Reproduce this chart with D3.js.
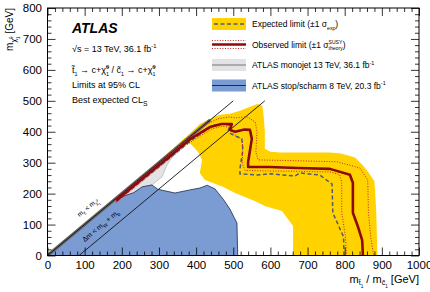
<!DOCTYPE html>
<html>
<head>
<meta charset="utf-8">
<script src="https://cdn.jsdelivr.net/npm/d3@7/dist/d3.min.js"></script>
<style>
  body { margin: 0; background: #fff; }
  svg { font-family: "Liberation Sans", Arial, sans-serif; }
</style>
</head>
<body>
<div id="chart"></div>
<script>

// tick values
var xMajor = [0, 100, 200, 300, 400, 500, 600, 700, 800, 900, 1000];
var yMajor = [0, 100, 200, 300, 400, 500, 600, 700, 800];

// contours, [m_stop/scharm, m_neutralino] in GeV
var expBand = [[300,292],[330,322],[360,352],[384,362],[405,335],[416,309],[410,267],[424,244],[472,222],[505,202],[558,176],[585,160],[631,144],[661,95],[661,0],[888,0],[885,140],[880,240],[866,265],[850,290],[828,317],[790,330],[760,333],[680,333],[626,333],[600,335],[585,345],[585,400],[582,450],[578,485],[565,490],[545,481],[518,468],[491,458],[464,455],[437,441],[410,425],[384,395],[360,370],[330,338],[300,306]];

var stopScharm8 = [[0,0],[182,180],[205,192],[232,203],[255,222],[281,228],[297,214],[343,202],[383,212],[410,218],[430,227],[451,215],[473,182],[491,150],[510,105],[512,0]];

var monojet13 = [[180,180],[440,440],[420,418],[392,394],[370,367],[335,318],[322,293],[308,254],[281,228],[255,219],[222,194],[200,186]];
var monojetLine = [[0,0],[438,438]];

var kinLine = [[0,0],[500,500]];
var wbLine = [[85,0],[585,500]];

var observed = [[185,178],[230,223],[280,272],[330,321],[384,376],[437,415],[468,425],[496,425],[491,406],[505,400],[530,407],[545,406],[550,377],[540,302],[540,286],[598,286],[672,283],[760,280],[814,261],[822,235],[822,138],[836,92],[847,50],[849,0]];
var obsUp = [[185,184],[230,229],[280,279],[330,330],[384,384],[420,420],[459,442],[491,448],[505,445],[537,448],[559,432],[564,400],[561,335],[567,309],[680,306],[779,303],[841,283],[862,244],[864,138],[870,60],[878,0]];
var obsDown = [[185,172],[230,215],[280,264],[330,313],[384,366],[440,408],[470,418],[490,414],[498,395],[515,382],[525,370],[525,295],[532,275],[600,273],[680,272],[760,270],[786,262],[792,238],[792,140],[802,60],[805,0]];
var expected = [[185,174],[230,219],[280,268],[330,317],[384,370],[445,420],[472,425],[491,421],[486,400],[499,390],[523,377],[526,341],[518,280],[518,264],[564,260],[599,264],[666,257],[680,267],[733,260],[766,231],[768,138],[797,60],[798,0]];

// label anchor points along the diagonals
var kinLabelPos = [112, 150];
var wbLabelPos = [147, 90];

var width = 430, height = 292;
var x = d3.scaleLinear().domain([0, 1000]).range([47.5, 419]);
var y = d3.scaleLinear().domain([0, 800]).range([255.5, 8]);

var svg = d3.select("#chart").append("svg")
  .attr("width", width).attr("height", height);

svg.append("clipPath").attr("id", "plotclip")
  .append("rect")
  .attr("x", x(0)).attr("y", y(800))
  .attr("width", x(1000) - x(0)).attr("height", y(0) - y(800));

var line = d3.line().x(function(d){ return x(d[0]); }).y(function(d){ return y(d[1]); });

var plot = svg.append("g").attr("clip-path", "url(#plotclip)");

// expected +-1 sigma band
plot.append("path").attr("d", line(expBand) + "Z")
  .attr("fill", "#ffd200").attr("stroke", "none");

// monojet
plot.append("path").attr("d", line(monojet13) + "Z")
  .attr("fill", "#e3e3e6").attr("stroke", "#999").attr("stroke-width", 0.5);

// 8 TeV stop/scharm
plot.append("path").attr("d", line(stopScharm8) + "Z")
  .attr("fill", "#7b9cd3").attr("stroke", "#1d2a4a").attr("stroke-width", 0.8);

plot.append("path").attr("d", line(monojetLine))
  .attr("fill", "none").attr("stroke", "#666").attr("stroke-width", 3.2);

plot.append("path").attr("d", line(kinLine))
  .attr("fill", "none").attr("stroke", "#111").attr("stroke-width", 0.9);
plot.append("path").attr("d", line(wbLine))
  .attr("fill", "none").attr("stroke", "#111").attr("stroke-width", 0.9);

plot.append("path").attr("d", line(expected))
  .attr("fill", "none").attr("stroke", "#4f5b78").attr("stroke-width", 1.5)
  .attr("stroke-dasharray", "4,2.5");

plot.selectAll(".dotted").data([obsUp, obsDown]).enter().append("path")
  .attr("class", "dotted")
  .attr("d", line)
  .attr("fill", "none").attr("stroke", "#c0282a").attr("stroke-width", 1)
  .attr("stroke-dasharray", "1,1.6");

plot.append("path").attr("d", line(observed))
  .attr("fill", "none").attr("stroke", "#8e0a0a").attr("stroke-width", 2.6)
  .attr("stroke-linejoin", "round");

// labels on the diagonals
var ang = Math.atan2(y(100) - y(0), x(100) - x(0)) * 180 / Math.PI;

function rich(sel, parts, size) {
  // parts: [text, baseline shift (em, + is down), size factor, stacked under previous]
  var shift = 0, prev = null;
  parts.forEach(function(p) {
    var target = (p[1] || 0) * size;
    var ts = sel.append("tspan")
      .attr("font-size", size * (p[2] || 1))
      .attr("dy", target - shift)
      .text(p[0]);
    if (p[3] && prev) ts.attr("dx", -prev.node().getComputedTextLength());
    shift = target;
    prev = ts;
  });
  return sel;
}

var kinLab = svg.append("text")
  .attr("transform", "translate(" + x(kinLabelPos[0]) + "," + y(kinLabelPos[1]) + ") rotate(" + ang + ")")
  .attr("text-anchor", "middle").attr("font-size", 6.5);
rich(kinLab, [["m"], ["c\u0303", 0.3, 0.7], [" < m"], ["\u03c7\u0303", 0.3, 0.7], ["0", -0.1, 0.5], ["1", 0.6, 0.5, true]], 6.5);

var wbLab = svg.append("text")
  .attr("transform", "translate(" + x(wbLabelPos[0]) + "," + y(wbLabelPos[1]) + ") rotate(" + ang + ")")
  .attr("text-anchor", "middle").attr("font-size", 7);
rich(wbLab, [["\u0394m < m"], ["W", 0.3, 0.7], [" + m", 0], ["b", 0.3, 0.7]], 7);

// axes, ROOT style ticks inside the frame
function minorVals(max) { return d3.range(0, max + 1, 20).filter(function(v){ return v % 100 != 0; }); }

svg.append("g").attr("transform", "translate(0," + y(0) + ")")
  .call(d3.axisBottom(x).tickValues(xMajor).tickFormat(d3.format("d")).tickSizeInner(-8).tickSizeOuter(0).tickPadding(5.5));
svg.append("g").attr("transform", "translate(0," + y(0) + ")")
  .call(d3.axisBottom(x).tickValues(minorVals(1000)).tickSizeInner(-4).tickSizeOuter(0).tickFormat(""));
svg.append("g").attr("transform", "translate(0," + y(800) + ")")
  .call(d3.axisTop(x).tickValues(xMajor).tickSizeInner(-8).tickSizeOuter(0).tickFormat(""));
svg.append("g").attr("transform", "translate(0," + y(800) + ")")
  .call(d3.axisTop(x).tickValues(minorVals(1000)).tickSizeInner(-4).tickSizeOuter(0).tickFormat(""));

svg.append("g").attr("transform", "translate(" + x(0) + ",0)")
  .call(d3.axisLeft(y).tickValues(yMajor).tickFormat(d3.format("d")).tickSizeInner(-8).tickSizeOuter(0).tickPadding(5.5));
svg.append("g").attr("transform", "translate(" + x(0) + ",0)")
  .call(d3.axisLeft(y).tickValues(minorVals(800)).tickSizeInner(-4).tickSizeOuter(0).tickFormat(""));
svg.append("g").attr("transform", "translate(" + x(1000) + ",0)")
  .call(d3.axisRight(y).tickValues(yMajor).tickSizeInner(-8).tickSizeOuter(0).tickFormat(""));
svg.append("g").attr("transform", "translate(" + x(1000) + ",0)")
  .call(d3.axisRight(y).tickValues(minorVals(800)).tickSizeInner(-4).tickSizeOuter(0).tickFormat(""));

svg.selectAll(".domain").remove();
svg.selectAll(".tick line").attr("stroke", "#000").attr("stroke-width", 0.8);
svg.selectAll(".tick text").attr("font-size", 11.5).attr("fill", "#000")
  .attr("font-family", "'Liberation Sans', Arial, sans-serif");

svg.append("rect")
  .attr("x", x(0)).attr("y", y(800))
  .attr("width", x(1000) - x(0)).attr("height", y(0) - y(800))
  .attr("fill", "none").attr("stroke", "#000").attr("stroke-width", 1);

// axis titles
var xt = svg.append("text").attr("x", x(1000)).attr("y", 283)
  .attr("text-anchor", "end").attr("font-size", 11);
rich(xt, [["m"], ["t\u0303", 0.2, 0.65], ["1", 0.42, 0.42], [" / m", 0], ["c\u0303", 0.2, 0.65], ["1", 0.42, 0.42], [" [GeV]", 0]], 11);

var yt = svg.append("text").attr("transform", "translate(13," + y(800) + ") rotate(-90)")
  .attr("text-anchor", "end").attr("font-size", 10);
rich(yt, [["m"], ["\u03c7\u0303", 0.3, 0.7], ["0", -0.05, 0.45], ["1", 0.7, 0.45, true], [" [GeV]", 0]], 10);

// text block
svg.append("text").attr("x", 72).attr("y", 33)
  .attr("font-size", 14).attr("font-weight", "bold").attr("font-style", "italic")
  .text("ATLAS");

rich(svg.append("text").attr("x", 72).attr("y", 52),
  [["\u221As = 13 TeV, 36.1 fb"], ["-1", -0.4, 0.65]], 9);
rich(svg.append("text").attr("x", 72).attr("y", 73),
  [["t\u0303"], ["1", 0.35, 0.6], [" \u2192 c+\u03c7\u0303", 0], ["0", -0.45, 0.6], ["1", 0.35, 0.6, true],
   [" / c\u0303", 0], ["1", 0.35, 0.6], [" \u2192 c+\u03c7\u0303", 0], ["0", -0.45, 0.6], ["1", 0.35, 0.6, true]], 9);
svg.append("text").attr("x", 72).attr("y", 88).attr("font-size", 9).text("Limits at 95% CL");
rich(svg.append("text").attr("x", 72).attr("y", 103),
  [["Best expected CL"], ["S", 0.3, 0.75]], 9);

// legend
var legRows = [24, 44.5, 65, 85.5];
var sx0 = 212, sx1 = 246, tx = 252;
var leg = svg.append("g");

leg.append("rect").attr("x", sx0).attr("y", legRows[0] - 6).attr("width", sx1 - sx0).attr("height", 12).attr("fill", "#ffd200");
leg.append("line").attr("x1", sx0 + 2).attr("x2", sx1 - 1).attr("y1", legRows[0]).attr("y2", legRows[0])
  .attr("stroke", "#4f5b78").attr("stroke-width", 1.5).attr("stroke-dasharray", "4,2.5");

[-4, 4].forEach(function(o) {
  leg.append("line").attr("x1", sx0).attr("x2", sx1).attr("y1", legRows[1] + o).attr("y2", legRows[1] + o)
    .attr("stroke", "#c0282a").attr("stroke-width", 1).attr("stroke-dasharray", "1,1.6");
});
leg.append("line").attr("x1", sx0).attr("x2", sx1).attr("y1", legRows[1]).attr("y2", legRows[1])
  .attr("stroke", "#8e0a0a").attr("stroke-width", 2.6);

leg.append("rect").attr("x", sx0).attr("y", legRows[2] - 6).attr("width", sx1 - sx0).attr("height", 12).attr("fill", "#e3e3e6");
leg.append("line").attr("x1", sx0).attr("x2", sx1).attr("y1", legRows[2]).attr("y2", legRows[2])
  .attr("stroke", "#777").attr("stroke-width", 1.2);

leg.append("rect").attr("x", sx0).attr("y", legRows[3] - 6).attr("width", sx1 - sx0).attr("height", 12).attr("fill", "#7b9cd3");
leg.append("line").attr("x1", sx0).attr("x2", sx1).attr("y1", legRows[3]).attr("y2", legRows[3])
  .attr("stroke", "#1d2a4a").attr("stroke-width", 1.2);

rich(leg.append("text").attr("x", tx).attr("y", legRows[0] + 3),
  [["Expected limit (\u00b11 \u03c3"], ["exp", 0.35, 0.6], [")", 0]], 8.5);
rich(leg.append("text").attr("x", tx).attr("y", legRows[1] + 3),
  [["Observed limit (\u00b11 \u03c3"], ["SUSY", -0.45, 0.6], ["theory", 0.35, 0.6, true], [")", 0]], 8.5);
rich(leg.append("text").attr("x", tx).attr("y", legRows[2] + 3),
  [["ATLAS monojet 13 TeV, 36.1 fb"], ["-1", -0.4, 0.65]], 8.5);
rich(leg.append("text").attr("x", tx).attr("y", legRows[3] + 3),
  [["ATLAS stop/scharm 8 TeV, 20.3 fb"], ["-1", -0.4, 0.65]], 8.5);

</script>
</body>
</html>
